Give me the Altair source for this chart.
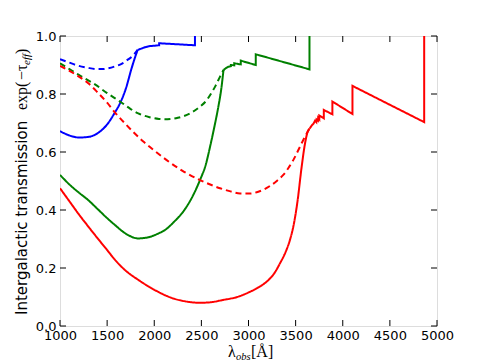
import altair as alt
import pandas as pd

W, H = 377, 290

x_ticks = [1000, 1500, 2000, 2500, 3000, 3500, 4000, 4500, 5000]
y_ticks = [0.0, 0.2, 0.4, 0.6, 0.8, 1.0]

# smooth parts (blueward of the Lyman limit)
blue_solid_x = [1000, 1100, 1200, 1300, 1400, 1500, 1584, 1637, 1700, 1760, 1800, 1824]
blue_solid_y = [0.672, 0.657, 0.650, 0.652, 0.665, 0.695, 0.737, 0.768, 0.820, 0.889, 0.930, 0.952]
# forest parts (sawtooth)
blue_forest_x = [1824, 1850, 1876, 1899, 1945, 2052, 2052, 2432, 2432]
blue_forest_y = [0.952, 0.955, 0.958, 0.961, 0.965, 0.968, 0.975, 0.968, 1.0]

blue_dash_x = [1000, 1100, 1200, 1300, 1400, 1450, 1500, 1600, 1654, 1700, 1778, 1824]
blue_dash_y = [0.920, 0.908, 0.897, 0.890, 0.886, 0.886, 0.888, 0.897, 0.904, 0.914, 0.934, 0.952]

green_solid_x = [1000, 1100, 1200, 1300, 1400, 1500, 1584, 1700, 1831, 1950, 2050, 2114, 2200, 2326, 2400, 2485, 2550, 2592, 2640, 2680, 2710, 2735]
green_solid_y = [0.521, 0.488, 0.460, 0.434, 0.403, 0.372, 0.348, 0.318, 0.302, 0.307, 0.320, 0.331, 0.356, 0.403, 0.443, 0.503, 0.560, 0.618, 0.690, 0.756, 0.815, 0.883]
green_forest_x = [2735, 2760, 2786, 2813, 2813, 2849, 2849, 2918, 2918, 3077, 3077, 3647, 3647]
green_forest_y = [0.883, 0.889, 0.894, 0.896, 0.900, 0.899, 0.906, 0.902, 0.915, 0.900, 0.937, 0.885, 1.0]

green_dash_x = [1000, 1100, 1200, 1300, 1371, 1500, 1655, 1750, 1830, 1950, 2050, 2140, 2250, 2380, 2480, 2557, 2600, 2650, 2698, 2735]
green_dash_y = [0.906, 0.886, 0.866, 0.847, 0.833, 0.803, 0.770, 0.748, 0.733, 0.720, 0.714, 0.713, 0.718, 0.733, 0.755, 0.779, 0.800, 0.828, 0.860, 0.883]

red_solid_x = [1000, 1100, 1200, 1300, 1400, 1500, 1584, 1700, 1831, 2000, 2202, 2350, 2485, 2600, 2733, 2880, 3016, 3100, 3193, 3270, 3334, 3400, 3440, 3480, 3520, 3564, 3600, 3630, 3647]
red_solid_y = [0.475, 0.430, 0.385, 0.343, 0.302, 0.262, 0.228, 0.190, 0.159, 0.125, 0.095, 0.084, 0.080, 0.082, 0.090, 0.100, 0.118, 0.132, 0.153, 0.180, 0.216, 0.260, 0.297, 0.350, 0.430, 0.549, 0.630, 0.672, 0.680]
red_forest_x = [3647, 3672, 3690, 3706, 3720, 3722, 3737, 3739, 3751, 3751, 3799, 3799, 3890, 3890, 4103, 4103, 4864, 4864]
red_forest_y = [0.680, 0.692, 0.698, 0.708, 0.703, 0.712, 0.708, 0.718, 0.713, 0.726, 0.716, 0.745, 0.730, 0.774, 0.731, 0.828, 0.703, 1.0]

red_dash_x = [1000, 1100, 1200, 1300, 1400, 1500, 1584, 1700, 1884, 2000, 2132, 2300, 2485, 2600, 2698, 2800, 2910, 3016, 3104, 3228, 3300, 3369, 3420, 3475, 3546, 3599, 3647]
red_dash_y = [0.897, 0.880, 0.860, 0.837, 0.805, 0.770, 0.736, 0.695, 0.636, 0.605, 0.572, 0.535, 0.503, 0.487, 0.475, 0.465, 0.457, 0.457, 0.463, 0.483, 0.500, 0.521, 0.543, 0.572, 0.618, 0.653, 0.680]

smooth_series = [
    ("z1", "solid", blue_solid_x, blue_solid_y),
    ("z1", "dashed", blue_dash_x, blue_dash_y),
    ("z2", "solid", green_solid_x, green_solid_y),
    ("z2", "dashed", green_dash_x, green_dash_y),
    ("z3", "solid", red_solid_x, red_solid_y),
    ("z3", "dashed", red_dash_x, red_dash_y),
]
forest_series = [
    ("z1", "solid", blue_forest_x, blue_forest_y),
    ("z2", "solid", green_forest_x, green_forest_y),
    ("z3", "solid", red_forest_x, red_forest_y),
]


def frame(series):
    rows = []
    for z, style, xs, ys in series:
        assert len(xs) == len(ys)
        for i, (a, b) in enumerate(zip(xs, ys)):
            rows.append({"key": z + "_" + style, "z": z, "style": style, "x": a, "y": b, "i": i})
    return pd.DataFrame(rows)


xscale = alt.Scale(domain=[1000, 5000], nice=False, zero=False)
yscale = alt.Scale(domain=[0, 1], nice=False)

xaxis = alt.Axis(values=x_ticks, format="d", ticks=False, domain=False, grid=False,
                 labelFont="DejaVu Sans", labelFontSize=13, labelPadding=3,
                 labelColor="black", title=None, labelFlush=False, labelOverlap=False)
yaxis = alt.Axis(values=y_ticks, format=".1f", ticks=False, domain=False, grid=False,
                 labelFont="DejaVu Sans", labelFontSize=13, labelPadding=4,
                 labelColor="black", title=None, labelFlush=False, labelOverlap=False)

color = alt.Color("z:N", scale=alt.Scale(domain=["z1", "z2", "z3"], range=["#0000ff", "#008000", "#ff0000"]), legend=None)
dash = alt.StrokeDash("style:N", scale=alt.Scale(domain=["solid", "dashed"], range=[[1, 0], [6, 4]]), legend=None)


def line_layer(df, interp):
    return alt.Chart(df).mark_line(strokeWidth=2, clip=True, interpolate=interp).encode(
        x=alt.X("x:Q", scale=xscale, axis=xaxis),
        y=alt.Y("y:Q", scale=yscale, axis=yaxis),
        color=color,
        strokeDash=dash,
        detail="key:N",
        order="i:Q",
    )


smooth = line_layer(frame(smooth_series), "monotone")
forest = line_layer(frame(forest_series), "linear")

xt = pd.DataFrame({"x": x_ticks})
yt = pd.DataFrame({"y": y_ticks})
tick_bottom = alt.Chart(xt).mark_rule(color="black", strokeWidth=1).encode(
    x=alt.X("x:Q", scale=xscale, axis=xaxis), y=alt.value(H), y2=alt.value(H - 6))
tick_top = alt.Chart(xt).mark_rule(color="black", strokeWidth=1).encode(
    x=alt.X("x:Q", scale=xscale, axis=xaxis), y=alt.value(0), y2=alt.value(6))
tick_left = alt.Chart(yt).mark_rule(color="black", strokeWidth=1).encode(
    y=alt.Y("y:Q", scale=yscale, axis=yaxis), x=alt.value(0), x2=alt.value(6))
tick_right = alt.Chart(yt).mark_rule(color="black", strokeWidth=1).encode(
    y=alt.Y("y:Q", scale=yscale, axis=yaxis), x=alt.value(W), x2=alt.value(W - 6))

one = pd.DataFrame({"t": [0]})


def label(text, x, y, font="Liberation Serif", size=15, angle=0, style="normal"):
    return alt.Chart(one).mark_text(text=text, align="left", baseline="alphabetic", font=font,
                                    fontSize=size, angle=angle, fontStyle=style, color="black").encode(
        x=alt.value(x), y=alt.value(y))


ytitle = [
    label("Intergalactic transmission", -33, 279, font="DejaVu Sans", size=15, angle=270),
    label("exp(", -33, 74, size=16, angle=270),
    label("\u2212\u03c4", -33, 44, size=16, angle=270),
    label("eff", -30, 29, size=11, angle=270, style="italic"),
    label(")", -33, 18, size=16, angle=270),
]
xtitle = [
    label("\u03bb", 168, 321, size=16),
    label("obs", 176, 324, size=10.5, style="italic"),
    label("[\u00c5]", 191, 321, size=16),
]

chart = alt.layer(smooth, forest, tick_bottom, tick_top, tick_left, tick_right, *ytitle, *xtitle).properties(
    width=W, height=H,
    padding={"left": 52, "top": 28, "right": 40, "bottom": 36},
    autosize=alt.AutoSizeParams(type="none"),
).configure_view(stroke="black", strokeWidth=1.5).configure(background="white")

chart.save("out.html", embed_options={"renderer": "svg", "actions": False})
